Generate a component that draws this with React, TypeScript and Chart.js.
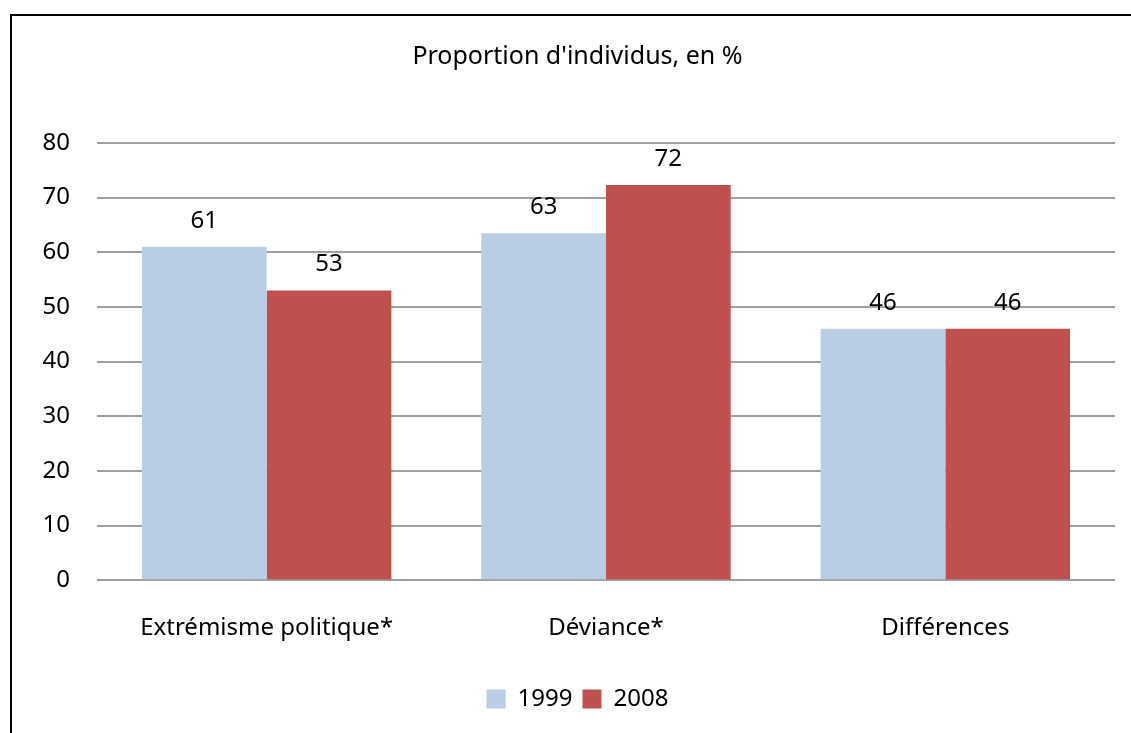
import React, { useEffect, useRef } from "react";
import { Chart, registerables } from "chart.js";

Chart.register(...registerables);

const categories = ["Extrémisme politique*", "Déviance*", "Différences"];
const series1999 = [61, 63.5, 46];
const series2008 = [53, 72.3, 46];
const labels1999 = ["61", "63", "46"];
const labels2008 = ["53", "72", "46"];
const seriesNames = ["1999", "2008"];
const yTicks = [0, 10, 20, 30, 40, 50, 60, 70, 80];
const titleText = "Proportion d'individus, en %";

const FONT = "'Noto Sans', 'Open Sans', sans-serif";

const valueLabelPlugin = {
  id: "valueLabels",
  afterDatasetsDraw(chart: any) {
    const ctx = chart.ctx;
    const texts = [labels1999, labels2008];
    ctx.save();
    ctx.font = `24px ${FONT}`;
    ctx.fillStyle = "#000";
    ctx.textAlign = "center";
    ctx.textBaseline = "middle";
    chart.data.datasets.forEach((ds: any, di: number) => {
      const meta = chart.getDatasetMeta(di);
      meta.data.forEach((bar: any, i: number) => {
        ctx.fillText(texts[di][i], bar.x, bar.y - 26);
      });
    });
    ctx.restore();
  },
};

export default function App() {
  const ref = useRef<HTMLCanvasElement>(null);
  useEffect(() => {
    if (!ref.current) return;
    const chart = new Chart(ref.current, {
      type: "bar",
      data: {
        labels: categories,
        datasets: [
          {
            label: seriesNames[0],
            data: series1999,
            backgroundColor: "#B9CDE5",
            categoryPercentage: 0.735,
            barPercentage: 1,
          },
          {
            label: seriesNames[1],
            data: series2008,
            backgroundColor: "#C0504D",
            categoryPercentage: 0.735,
            barPercentage: 1,
          },
        ],
      },
      options: {
        animation: false,
        responsive: false,
        layout: { padding: { left: 40, right: 16, top: 0, bottom: 12 } },
        plugins: {
          title: {
            display: true,
            text: titleText,
            color: "#000",
            font: { family: FONT, size: 25, weight: "normal" },
            padding: { top: 42, bottom: 71 },
          },
          legend: {
            position: "bottom",
            labels: {
              color: "#000",
              font: { family: FONT, size: 24 },
              boxWidth: 19,
              boxHeight: 19,
              padding: 10,
            },
          },
          tooltip: { enabled: false },
        },
        scales: {
          x: {
            grid: { display: false, drawTicks: false },
            border: { display: false },
            ticks: {
              color: "#000",
              font: { family: FONT, size: 24 },
              padding: 34,
              maxRotation: 0,
            },
          },
          y: {
            min: 0,
            max: 80,
            afterFit(scale: any) {
              scale.width = 57;
            },
            afterBuildTicks(scale: any) {
              scale.ticks = yTicks.map((v) => ({ value: v }));
            },
            grid: { color: "#A0A0A0", lineWidth: 2, drawTicks: false },
            border: { display: false },
            ticks: {
              color: "#000",
              font: { family: FONT, size: 24 },
              padding: 27,
            },
          },
        },
      },
      plugins: [valueLabelPlugin],
    });
    return () => chart.destroy();
  }, []);

  return (
    <div style={{ position: "fixed", left: 0, top: 0, width: 1131, height: 733, background: "#fff", overflow: "hidden" }}>
      <div
        style={{
          position: "absolute",
          left: 10,
          top: 14,
          width: 1200,
          height: 800,
          borderLeft: "2px solid #000",
          borderTop: "2px solid #000",
        }}
      />
      <canvas ref={ref} width={1131} height={733} style={{ position: "absolute", left: 0, top: 0 }} />
    </div>
  );
}
